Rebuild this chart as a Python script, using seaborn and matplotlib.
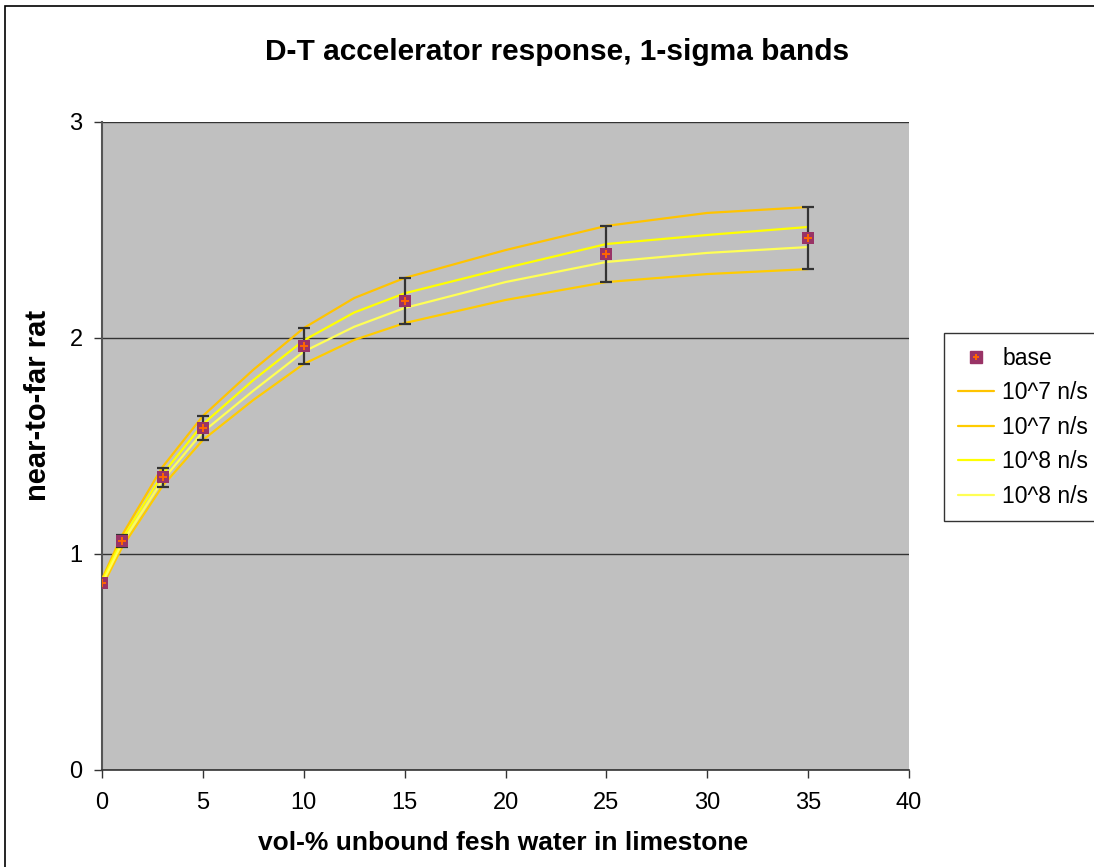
import matplotlib
matplotlib.use("Agg")
import matplotlib.pyplot as plt
import seaborn as sns
import numpy as np
from matplotlib.patches import Rectangle
from matplotlib.lines import Line2D
from matplotlib.legend_handler import HandlerTuple

# ---- data ----
base_x = [0, 1, 3, 5, 10, 15, 25, 35]
base_y = [0.868, 1.060, 1.356, 1.583, 1.963, 2.171, 2.389, 2.463]
base_err = [0.018, 0.028, 0.044, 0.055, 0.083, 0.105, 0.130, 0.143]

line_x = [0, 1, 3, 5, 7.5, 10, 12.5, 15, 20, 25, 30, 35]
e7_upper = [0.884, 1.088, 1.403, 1.639, 1.853, 2.046, 2.185, 2.278, 2.407, 2.519, 2.579, 2.606]
e7_lower = [0.847, 1.032, 1.315, 1.528, 1.713, 1.880, 1.991, 2.069, 2.176, 2.259, 2.296, 2.319]
e8_upper = [0.875, 1.069, 1.370, 1.601, 1.805, 1.989, 2.118, 2.207, 2.324, 2.435, 2.477, 2.514]
e8_lower = [0.862, 1.051, 1.342, 1.565, 1.756, 1.937, 2.052, 2.139, 2.259, 2.352, 2.394, 2.421]

series_labels = ["10^7 n/s", "10^7 n/s", "10^8 n/s", "10^8 n/s"]
series_colors = ["#FFC400", "#FFCC00", "#FFFF00", "#FFFF55"]

title = "D-T accelerator response, 1-sigma bands"
xlabel = "vol-% unbound fesh water in limestone"
ylabel = "near-to-far rat"
x_ticks = [0, 5, 10, 15, 20, 25, 30, 35, 40]
y_ticks = [0, 1, 2, 3]

# ---- style ----
sns.set_style("ticks")
plt.rcParams["font.family"] = ["Liberation Sans", "DejaVu Sans"]
plt.rcParams["text.color"] = "black"
plt.rcParams["axes.labelcolor"] = "black"
plt.rcParams["xtick.labelcolor"] = "black"
plt.rcParams["ytick.labelcolor"] = "black"

W, H = 1094, 867
fig = plt.figure(figsize=(W / 100, H / 100), dpi=100)
fig.patch.set_facecolor("white")
ax = fig.add_axes([102 / W, 1 - 770 / H, (909 - 102) / W, (770 - 122) / H])
ax.set_facecolor("#C0C0C0")

# band lines
for ys, lab, col in zip([e7_upper, e7_lower, e8_upper, e8_lower], series_labels, series_colors):
    sns.lineplot(x=line_x, y=ys, ax=ax, color=col, linewidth=1.6, label=lab,
                 legend=False, zorder=3, sort=False)

# error bars
ax.errorbar(base_x, base_y, yerr=base_err, fmt="none", ecolor="#333333",
            elinewidth=1.6, capsize=4.5, capthick=1.6, zorder=4)

# base markers
sns.scatterplot(x=base_x, y=base_y, ax=ax, marker="s", s=64, color="#993366",
                edgecolor="#993366", linewidth=0, zorder=5, legend=False)
sns.scatterplot(x=base_x, y=base_y, ax=ax, marker="+", s=30, color="#FF6600",
                linewidth=1.4, zorder=6, legend=False)

ax.set_xlim(0, 40)
ax.set_ylim(0, 3)
ax.set_xticks(x_ticks)
ax.set_yticks(y_ticks)
ax.set_xticklabels([str(t) for t in x_ticks], fontsize=17)
ax.set_yticklabels([str(t) for t in y_ticks], fontsize=17)
ax.tick_params(axis="x", direction="out", length=6, width=1, color="#333333", pad=10)
ax.tick_params(axis="y", direction="out", length=6, width=1, color="#333333", pad=8)
ax.yaxis.grid(True, color="#333333", linewidth=1.0)
ax.xaxis.grid(False)
ax.set_axisbelow(True)
for s in ["top", "right"]:
    ax.spines[s].set_visible(False)
ax.spines["left"].set_color("#555555")
ax.spines["left"].set_linewidth(1.5)
ax.spines["bottom"].set_color("#333333")
ax.spines["bottom"].set_linewidth(1.2)

ax.set_xlabel(xlabel, fontsize=19, fontweight="bold", va="center")
ax.xaxis.set_label_coords(0.497, (770 - 843) / 648, transform=ax.transAxes)
ax.set_ylabel(ylabel, fontsize=21, fontweight="bold", va="center")
ax.yaxis.set_label_coords((38 - 102) / 807, (770 - 405) / 648)

fig.text(557 / W, 1 - 52 / H, title, ha="center", va="center",
         fontsize=21.5, fontweight="bold")

# legend
base_handle = (Line2D([], [], marker="s", color="#993366", linestyle="none", markersize=8),
               Line2D([], [], marker="+", color="#FF6600", linestyle="none", markersize=5,
                      markeredgewidth=1.4))
line_handles = [Line2D([], [], color=c, linewidth=1.6) for c in series_colors]
leg = fig.legend([base_handle] + line_handles, ["base"] + series_labels,
                 loc="upper left", bbox_to_anchor=(944 / W, 1 - 333 / H),
                 borderaxespad=0, fontsize=16.5, frameon=True, fancybox=False,
                 edgecolor="black", handlelength=1.6, handletextpad=0.35,
                 labelspacing=0.5, borderpad=0.6,
                 handler_map={tuple: HandlerTuple(ndivide=1, pad=0)})
leg.get_frame().set_linewidth(1.0)

# outer chart border (clipped on right/bottom like the reference)
fig.patches.append(Rectangle((5 / W, -0.05), 1.2, 1 - 6 / H + 0.05, transform=fig.transFigure,
                             fill=False, edgecolor="black", linewidth=1.2))

fig.savefig("out.png", dpi=100)
